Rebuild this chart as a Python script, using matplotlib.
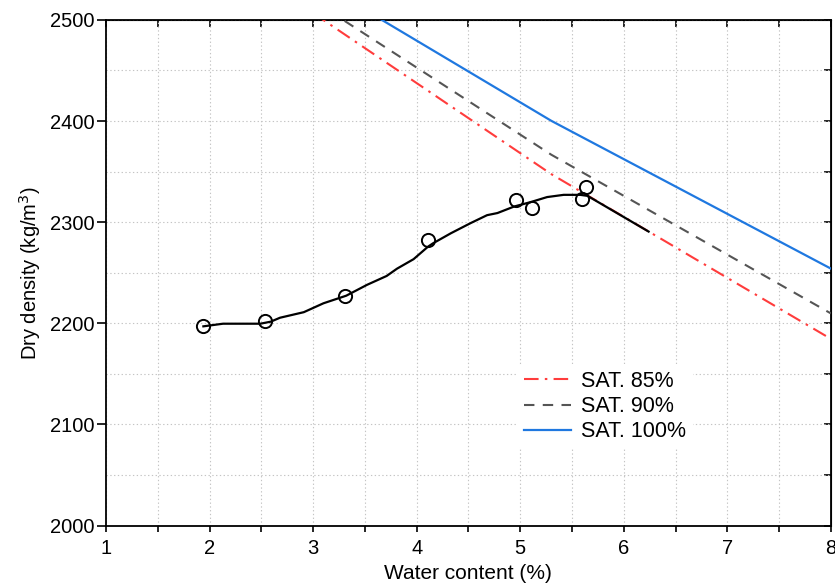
import numpy as np
import matplotlib
matplotlib.use("Agg")
import matplotlib.pyplot as plt
from matplotlib.ticker import MultipleLocator, FuncFormatter

plt.rcParams['font.family'] = ['Liberation Sans', 'DejaVu Sans']

# measured points (water content %, dry density kg/m3)
w_pts = [1.94, 2.54, 3.31, 4.11, 4.96, 5.11, 5.60, 5.64]
rho_pts = [2197, 2202, 2227, 2282, 2322, 2314, 2323, 2335]

# hand-fitted compaction curve
w_fit = [1.94, 2.13, 2.49, 2.59, 2.68, 2.91, 3.10, 3.32, 3.52, 3.71, 3.81, 3.97,
         4.11, 4.16, 4.33, 4.52, 4.68, 4.78, 4.94, 5.10, 5.26, 5.42, 5.58, 5.65, 6.24]
rho_fit = [2197, 2199.6, 2199.6, 2201.6, 2205.5, 2211, 2219.8, 2227.3, 2238, 2246.8,
           2254, 2263.4, 2275.8, 2279.2, 2289, 2299, 2306.9, 2309, 2315.4, 2319.8,
           2324.8, 2327, 2327, 2326, 2290.7]

# saturation lines
w_sat = [3.0, 5.3, 8.0]
rho_sat85 = [2506.7, 2347.5, 2184.6]
rho_sat90 = [2519.1, 2366.7, 2209.8]
rho_sat100 = [2540.4, 2400.2, 2254.1]

fig = plt.figure(figsize=(8.35, 5.84), dpi=100)
ax = fig.add_axes([0.127, 0.100, 0.868, 0.866])

ax.plot(w_sat, rho_sat85, color='#ff3c3c', lw=1.5, dashes=(7, 3, 1.2, 3), label='SAT. 85%', zorder=3)
ax.plot(w_sat, rho_sat90, color='#555555', lw=1.5, dashes=(5, 4), label='SAT. 90%', zorder=3)
ax.plot(w_sat, rho_sat100, color='#1f78e0', lw=1.6, label='SAT. 100%', zorder=3)
ax.plot(w_fit, rho_fit, color='black', lw=1.6, zorder=4)
ax.plot(w_pts, rho_pts, 'o', mfc='none', mec='black', mew=1.4, ms=9.5, zorder=5)

ax.set_xlim(1, 8)
ax.set_ylim(2000, 2500)
ax.xaxis.set_major_locator(MultipleLocator(0.5))
ax.xaxis.set_major_formatter(FuncFormatter(lambda v, p: '%d' % v if abs(v - round(v)) < 1e-6 else ''))
ax.yaxis.set_major_locator(MultipleLocator(100))
ax.yaxis.set_minor_locator(MultipleLocator(50))
ax.grid(True, which='both', color='#c4c4c4', ls=(0, (1.2, 2.2)), lw=0.8, zorder=0)
ax.tick_params(axis='x', direction='out', length=4, width=1.2, labelsize=14.5, pad=6)
ax.tick_params(axis='y', which='major', direction='out', length=6.5, width=1.2, labelsize=14.5, pad=2)
ax.tick_params(axis='y', which='minor', length=0)
for s in ax.spines.values():
    s.set_linewidth(1.3)

# inward ticks on top and right
top = ax.secondary_xaxis('top')
top.xaxis.set_major_locator(MultipleLocator(0.5))
top.tick_params(direction='in', length=5, width=1.2, labeltop=False)
right = ax.secondary_yaxis('right')
right.yaxis.set_major_locator(MultipleLocator(50))
right.tick_params(direction='in', length=5, width=1.2, labelright=False)

ax.set_xlabel('Water content (%)', fontsize=15, labelpad=4)
ax.set_ylabel('Dry density (kg/m$^3$)', fontsize=14.5, labelpad=5)

leg = ax.legend(loc='upper left', bbox_to_anchor=(0.553, 0.34), frameon=True, fontsize=15.5,
                handlelength=2.2, handletextpad=0.45, labelspacing=0.2, borderpad=0.3)
leg.get_frame().set_edgecolor('none')
leg.get_frame().set_facecolor('white')
leg.get_frame().set_alpha(1)
leg.set_zorder(6)

fig.savefig('out.png', dpi=100)
